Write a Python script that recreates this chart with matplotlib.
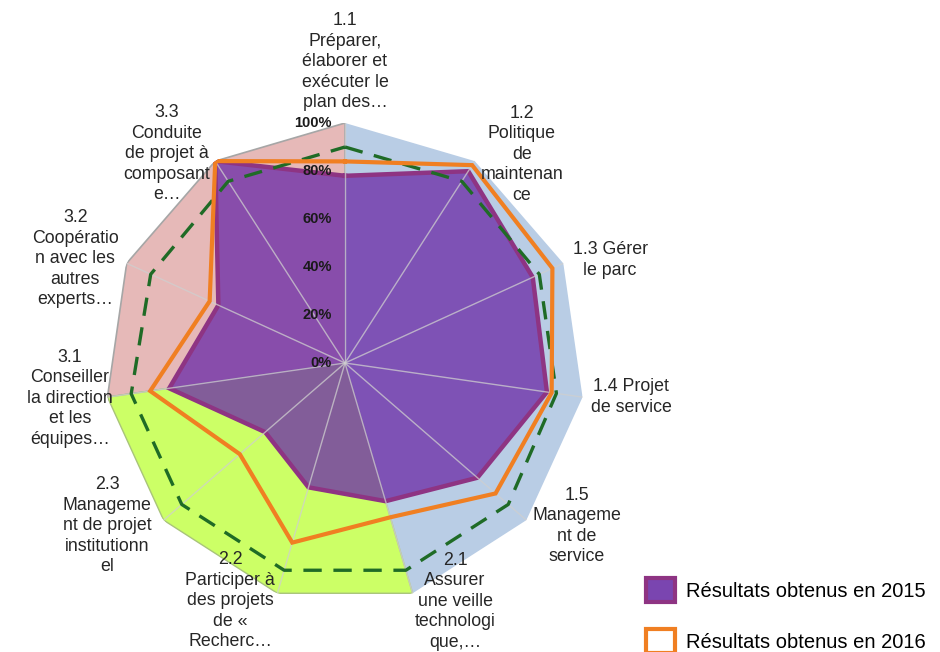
import numpy as np
import matplotlib
matplotlib.use("Agg")
import matplotlib.pyplot as plt
from matplotlib.patches import Patch
import matplotlib.transforms as mtransforms

# ---------------- data ----------------
categories = ["1.1", "1.2", "1.3", "1.4", "1.5", "2.1", "2.2", "2.3", "3.1", "3.2", "3.3"]
labels = [
    "1.1\nPréparer,\nélaborer et\nexécuter le\nplan des…",
    "1.2\nPolitique\nde\nmaintenan\nce",
    "1.3 Gérer\nle parc",
    "1.4 Projet\nde service",
    "1.5\nManageme\nnt de\nservice",
    "2.1\nAssurer\nune veille\ntechnologi\nque,…",
    "2.2\nParticiper à\ndes projets\nde «\nRecherc…",
    "2.3\nManageme\nnt de projet\ninstitutionn\nel",
    "3.1\nConseiller\nla direction\net les\néquipes…",
    "3.2\nCoopératio\nn avec les\nautres\nexperts…",
    "3.3\nConduite\nde projet à\ncomposant\ne…",
]
bg_domain1 = [100, 100, 100, 100, 100, 100, 0, 0, 0, 0, 0]
bg_domain2 = [0, 0, 0, 0, 0, 100, 100, 100, 100, 0, 0]
bg_domain3 = [100, 0, 0, 0, 0, 0, 0, 0, 100, 100, 100]
res_2015 = [78, 95, 86, 85, 73, 60, 54, 44, 74, 58, 100]
res_2016 = [84, 98, 95, 87, 83, 67, 78, 58, 82, 62, 100]
objectif = [90, 90, 89, 89, 90, 90, 90, 90, 90, 89, 90]
tick_values = [0, 20, 40, 60, 80, 100]
tick_labels = ["0%", "20%", "40%", "60%", "80%", "100%"]
legend_labels = ["Résultats obtenus en 2015", "Résultats obtenus en 2016"]

# ---------------- layout ----------------
label_pos = [  # (angle deg clockwise from top, radius in axis units)
    (0.0, 1.255), (40.3, 1.14), (68.8, 1.185), (96.8, 1.20), (125.1, 1.18),
    (155.2, 1.093), (205.8, 1.10), (235.6, 1.20), (262.7, 1.155),
    (291.1, 1.205), (319.6, 1.145),
]

W, H = 940, 652
fig = plt.figure(figsize=(W / 100, H / 100), dpi=100)
cx, cy, R = 345, 363, 240
ax = fig.add_axes([(cx - R) / W, 1 - (cy + R) / H, 2 * R / W, 2 * R / H],
                  projection="polar")
ax.set_theta_offset(np.pi / 2)
ax.set_theta_direction(-1)
ax.set_ylim(0, 100)
ax.set_axis_off()

n = len(categories)
theta = np.arange(n) * 2 * np.pi / n
tc = np.append(theta, theta[0])

def closed(v):
    return np.append(np.asarray(v, float), v[0])

# background domains
ax.fill(tc, closed(bg_domain1), color="#b9cde5", lw=0, zorder=1)
ax.fill(tc, closed(bg_domain3), facecolor="#e6b9b8", edgecolor="#a6a6a6", lw=1.2, zorder=1)
ax.fill(tc, closed(bg_domain2), facecolor="#ccff66", edgecolor="#a9c47a", lw=1.0, zorder=2)

# 2015 filled series
ax.fill(tc, closed(res_2015), facecolor="#6e2fa8", alpha=0.78, lw=0, zorder=3)
ax.plot(tc, closed(res_2015), color="#8e3483", lw=3.2, zorder=4, solid_joinstyle="miter")

# spokes
for t in theta:
    ax.plot([t, t], [0, 100], color="#cfcfcf", lw=1.0, alpha=0.75, zorder=5)

# 2016 line and objective
ax.plot(tc, closed(res_2016), color="#f07f22", lw=3.0, zorder=7, solid_joinstyle="miter")
ax.plot(tc, closed(objectif), color="#1f6b26", lw=2.4, dashes=(5.5, 3.5), zorder=6)

# radial tick labels
off = mtransforms.offset_copy(ax.transData, fig=fig, x=-13, y=0, units="dots")
for v, s in zip(tick_values, tick_labels):
    ax.text(0, v, s, transform=off, ha="right", va="center", fontsize=10.5,
            fontweight="bold", family="Liberation Sans", color="#1a1a1a", zorder=8)

# category labels
for (ang, r), s in zip(label_pos, labels):
    ax.text(np.deg2rad(ang), r * 100, s, ha="center", va="center", ma="center",
            fontsize=12.8, family="Liberation Sans", color="#262626",
            linespacing=1.27, zorder=9, clip_on=False)

# legend
handles = [
    Patch(facecolor="#7a45b0", edgecolor="#8e3483", lw=3),
    Patch(facecolor="white", edgecolor="#f07f22", lw=3),
]
fig.legend(handles, legend_labels, loc="upper left",
           bbox_to_anchor=(646 / W, 1 - 578 / H), frameon=False,
           prop={"family": "Liberation Sans", "size": 14.5},
           handlelength=1.45, handleheight=1.45, handletextpad=0.55,
           labelspacing=1.35, borderpad=0, borderaxespad=0)

fig.savefig("out.png", dpi=100, facecolor="white")
